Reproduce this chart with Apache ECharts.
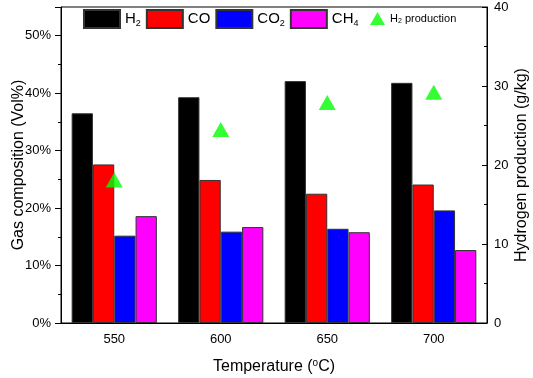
<!DOCTYPE html>
<html>
<head>
<meta charset="utf-8">
<script src="https://cdn.jsdelivr.net/npm/echarts@6/dist/echarts.min.js"></script>
<style>
  html, body { margin: 0; padding: 0; background: #fff; }
  #chart { width: 533px; height: 378px; }
</style>
</head>
<body>
<div id="chart"></div>
<script>
// temperatures (°C)
var temps = ['550', '600', '650', '700']
// gas composition, vol%
var h2 = [36.5, 39.3, 42.1, 41.8]
var co = [27.6, 24.9, 22.5, 24.1]
var co2 = [15.2, 15.9, 16.4, 19.6]
var ch4 = [18.6, 16.7, 15.8, 12.7]
// hydrogen production, g/kg
var h2Prod = [18.1, 24.5, 27.9, 29.2]

var font = 'Liberation Sans'
var legendNames = {
  'H2': '{n|H}{s|2}',
  'CO': '{n|CO}',
  'CO2': '{n|CO}{s|2}',
  'CH4': '{n|CH}{s|4}',
  'H2 production': '{m|H}{ms|2}{m| production}'
}

var chart = echarts.init(document.getElementById('chart'))

function barSeries(name, color, data) {
  return {
    name: name,
    type: 'bar',
    barGap: '0%',
    barCategoryGap: '20%',
    itemStyle: { color: color, borderColor: '#333', borderWidth: 1, borderRadius: 0 },
    data: data,
    animation: false
  }
}

var labelStyle = { color: '#000', fontSize: 13, fontFamily: font }
var nameStyle = { color: '#000', fontSize: 16, fontFamily: font }

chart.setOption({
  grid: {
    left: 61, right: 46, top: 7, bottom: 55,
    outerBoundsMode: 'none',
    containLabel: false,
    show: true, borderColor: '#000', borderWidth: 1
  },
  legend: [{
    data: ['H2', 'CO', 'CO2', 'CH4'],
    left: 83, top: 9,
    padding: 0,
    icon: 'rect',
    itemWidth: 36, itemHeight: 18, itemGap: 5,
    formatter: function (n) { return legendNames[n] },
    textStyle: {
      rich: {
        n: { fontSize: 15, fontFamily: font, color: '#000', lineHeight: 18 },
        s: { fontSize: 9, fontFamily: font, color: '#000', lineHeight: 9, padding: [10, 0, 0, 0] }
      }
    }
  }, {
    data: [{ name: 'H2 production', icon: 'triangle' }],
    left: 370, top: 12,
    padding: 0,
    itemWidth: 15, itemHeight: 13,
    formatter: function (n) { return legendNames[n] },
    textStyle: {
      rich: {
        m: { fontSize: 11, fontFamily: font, color: '#000', lineHeight: 13 },
        ms: { fontSize: 7, fontFamily: font, color: '#000', lineHeight: 7, padding: [6, 0, 0, 0] }
      }
    }
  }],
  xAxis: [{
    type: 'category',
    data: temps,
    position: 'bottom',
    name: '{n|Temperature (}{p|o}{n|C)}',
    nameLocation: 'middle',
    nameGap: 35,
    nameMoveOverlap: false,
    nameTextStyle: {
      rich: {
        n: { fontSize: 16, fontFamily: font, color: '#000' },
        p: { fontSize: 10, fontFamily: font, color: '#000', padding: [0, 0, 8, 0] }
      }
    },
    axisLine: { lineStyle: { color: '#000', width: 1 } },
    axisTick: { alignWithLabel: true, length: 6, lineStyle: { color: '#000' } },
    axisLabel: Object.assign({ margin: 10 }, labelStyle)
  }, {
    type: 'category',
    data: temps,
    position: 'bottom',
    axisLine: { show: false },
    axisTick: { length: 4, lineStyle: { color: '#000' } },
    axisLabel: { show: false }
  }],
  yAxis: [{
    type: 'value',
    min: 0, max: 55, interval: 10,
    position: 'left',
    name: 'Gas composition (Vol%)',
    nameLocation: 'middle',
    nameGap: 34,
    nameMoveOverlap: false,
    nameTextStyle: nameStyle,
    axisLine: { show: true, lineStyle: { color: '#000', width: 1 } },
    axisTick: { show: true, length: 6, lineStyle: { color: '#000' } },
    minorTick: { show: true, splitNumber: 2, length: 3, lineStyle: { color: '#000' } },
    splitLine: { show: false },
    axisLabel: Object.assign({
      margin: 10,
      formatter: function (v) { return v % 10 === 0 ? v + '%' : '' }
    }, labelStyle)
  }, {
    type: 'value',
    min: 0, max: 40, interval: 10,
    position: 'right',
    name: 'Hydrogen production (g/kg)',
    nameLocation: 'middle',
    nameGap: 27,
    nameMoveOverlap: false,
    nameTextStyle: nameStyle,
    axisLine: { show: true, lineStyle: { color: '#000', width: 1 } },
    axisTick: { show: true, inside: true, length: 5, lineStyle: { color: '#000' } },
    minorTick: { show: true, splitNumber: 2, length: 3, lineStyle: { color: '#000' } },
    splitLine: { show: false },
    axisLabel: Object.assign({ margin: 7 }, labelStyle)
  }],
  series: [
    barSeries('H2', '#000000', h2),
    barSeries('CO', '#ff0000', co),
    barSeries('CO2', '#0000ff', co2),
    barSeries('CH4', '#ff00ff', ch4),
    {
      name: 'H2 production',
      type: 'scatter',
      yAxisIndex: 1,
      symbol: 'triangle',
      symbolSize: [17, 15],
      itemStyle: { color: '#00ff00' },
      data: h2Prod,
      z: 5,
      animation: false
    }
  ]
})
</script>
</body>
</html>
